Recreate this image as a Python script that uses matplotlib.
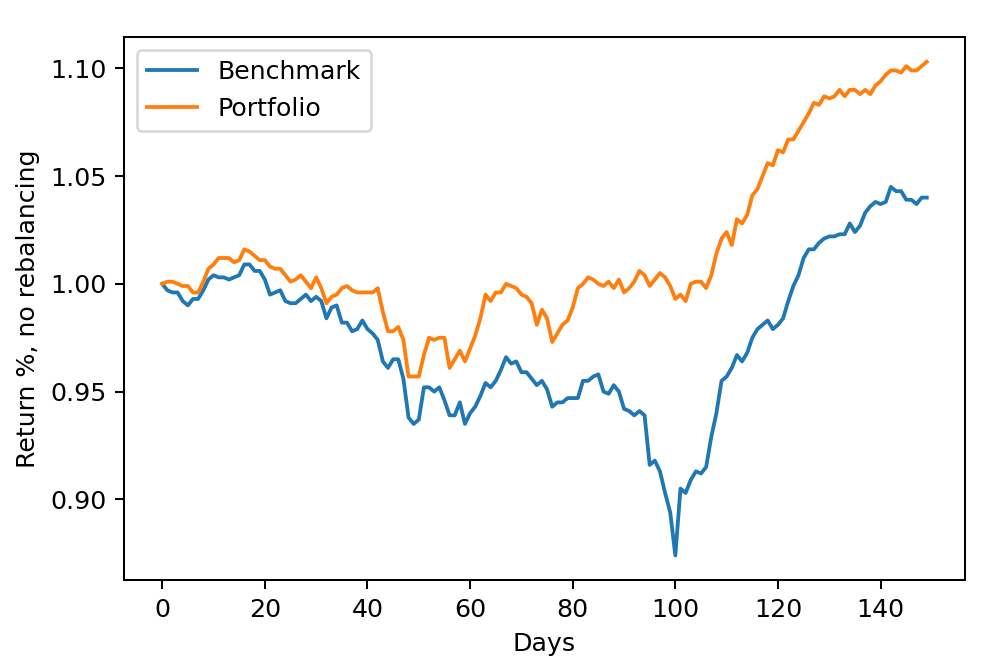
import matplotlib
matplotlib.use("Agg")
import matplotlib.pyplot as plt
import numpy as np

days = np.arange(150)

benchmark = [
    1.000, 0.997, 0.996, 0.996, 0.992, 0.990, 0.993, 0.993, 0.997, 1.002,
    1.004, 1.003, 1.003, 1.002, 1.003, 1.004, 1.009, 1.009, 1.006, 1.006,
    1.002, 0.995, 0.996, 0.997, 0.992, 0.991, 0.991, 0.993, 0.995, 0.992,
    0.994, 0.992, 0.984, 0.989, 0.990, 0.982, 0.982, 0.978, 0.979, 0.983,
    0.979, 0.977, 0.974, 0.964, 0.961, 0.965, 0.965, 0.956, 0.938, 0.935,
    0.937, 0.952, 0.952, 0.950, 0.952, 0.946, 0.939, 0.939, 0.945, 0.935,
    0.940, 0.943, 0.948, 0.954, 0.952, 0.955, 0.960, 0.966, 0.963, 0.964,
    0.959, 0.959, 0.956, 0.953, 0.955, 0.951, 0.943, 0.945, 0.945, 0.947,
    0.947, 0.947, 0.955, 0.955, 0.957, 0.958, 0.950, 0.949, 0.953, 0.950,
    0.942, 0.941, 0.939, 0.941, 0.939, 0.916, 0.918, 0.913, 0.903, 0.894,
    0.874, 0.905, 0.903, 0.909, 0.913, 0.912, 0.915, 0.929, 0.940, 0.955,
    0.957, 0.961, 0.967, 0.964, 0.968, 0.975, 0.979, 0.981, 0.983, 0.979,
    0.981, 0.984, 0.992, 0.999, 1.004, 1.012, 1.016, 1.016, 1.019, 1.021,
    1.022, 1.022, 1.023, 1.023, 1.028, 1.024, 1.027, 1.033, 1.036, 1.038,
    1.037, 1.038, 1.045, 1.043, 1.043, 1.039, 1.039, 1.037, 1.040, 1.040,
]

portfolio = [
    1.000, 1.001, 1.001, 1.000, 0.999, 0.999, 0.996, 0.996, 1.001, 1.007,
    1.009, 1.012, 1.012, 1.012, 1.010, 1.011, 1.016, 1.015, 1.013, 1.011,
    1.011, 1.008, 1.007, 1.007, 1.004, 1.001, 1.002, 1.004, 1.001, 0.998,
    1.003, 0.998, 0.991, 0.994, 0.995, 0.998, 0.999, 0.997, 0.996, 0.996,
    0.996, 0.996, 0.998, 0.987, 0.978, 0.978, 0.980, 0.974, 0.957, 0.957,
    0.957, 0.967, 0.975, 0.974, 0.975, 0.975, 0.961, 0.965, 0.969, 0.964,
    0.970, 0.976, 0.984, 0.995, 0.992, 0.996, 0.996, 1.000, 0.999, 0.998,
    0.995, 0.994, 0.991, 0.981, 0.988, 0.984, 0.973, 0.977, 0.981, 0.983,
    0.989, 0.998, 1.000, 1.003, 1.002, 1.000, 0.999, 1.001, 0.998, 1.002,
    0.996, 0.998, 1.001, 1.006, 1.004, 0.999, 1.002, 1.005, 1.003, 0.999,
    0.993, 0.995, 0.992, 1.000, 1.001, 1.001, 0.998, 1.004, 1.014, 1.021,
    1.024, 1.018, 1.030, 1.028, 1.032, 1.041, 1.044, 1.050, 1.056, 1.055,
    1.062, 1.061, 1.067, 1.067, 1.071, 1.075, 1.079, 1.084, 1.083, 1.087,
    1.086, 1.087, 1.090, 1.087, 1.090, 1.090, 1.088, 1.090, 1.088, 1.092,
    1.094, 1.097, 1.099, 1.099, 1.098, 1.101, 1.099, 1.099, 1.101, 1.103,
]

DPI = 182.0
fig = plt.figure(figsize=(1000 / DPI, 663 / DPI), dpi=DPI)
ax = fig.add_subplot(111)
fig.subplots_adjust(left=0.124, right=0.965, top=0.944, bottom=0.125)

ax.plot(days, benchmark, color="#1f77b4", label="Benchmark")
ax.plot(days, portfolio, color="#ff7f0e", label="Portfolio")

ax.set_xlabel("Days")
ax.set_ylabel("Return %, no rebalancing")
ax.set_xticks([0, 20, 40, 60, 80, 100, 120, 140])
ax.set_yticks([0.90, 0.95, 1.00, 1.05, 1.10])
ax.yaxis.set_major_formatter(matplotlib.ticker.FormatStrFormatter("%.2f"))
ax.legend(loc="upper left")

fig.savefig("out.png", dpi=DPI)
